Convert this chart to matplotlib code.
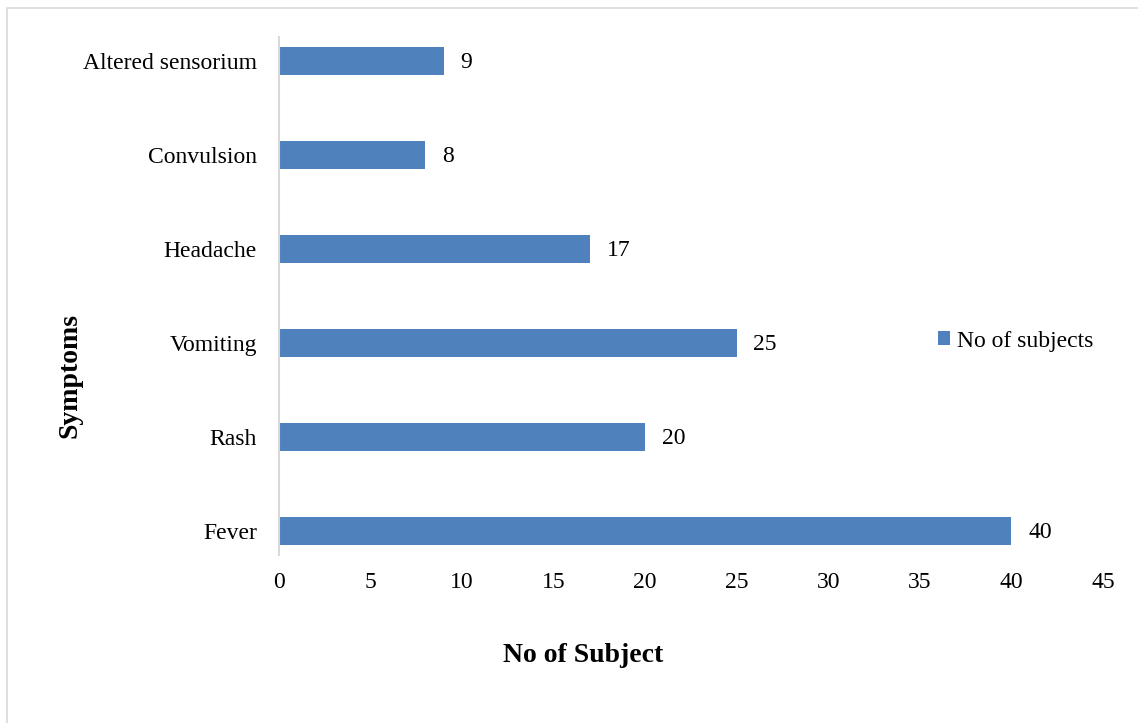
import matplotlib.pyplot as plt
from matplotlib.patches import Rectangle

symptoms = ["Fever", "Rash", "Vomiting", "Headache", "Convulsion", "Altered sensorium"]
subjects = [40, 20, 25, 17, 8, 9]
xticks = [0, 5, 10, 15, 20, 25, 30, 35, 40, 45]

plt.rcParams['font.family'] = ['Liberation Serif', 'DejaVu Serif']

fig = plt.figure(figsize=(11.38, 7.23), dpi=100)
ax = fig.add_axes([279 / 1138, 1 - 555 / 723, 824 / 1138, 518 / 723])

bars = ax.barh(range(len(symptoms)), subjects, height=0.3, color='#4F81BD',
               label='No of subjects')
for b, v in zip(bars, subjects):
    ax.annotate(str(v), (b.get_width(), b.get_y() + b.get_height() / 2),
                xytext=(12, -1), textcoords='offset points', va='center',
                ha='left', fontsize=17)

ax.set_xlim(0, 45)
ax.set_ylim(-24 / 94, 5 + 24 / 94)
ax.set_xticks(xticks)
ax.set_yticks(range(len(symptoms)))
ax.set_yticklabels(symptoms)
ax.tick_params(length=0, labelsize=17)
ax.tick_params(axis='x', pad=12)
ax.tick_params(axis='y', pad=16)
for s in ['top', 'right', 'bottom']:
    ax.spines[s].set_visible(False)
ax.spines['left'].set_color('#d9d9d9')
ax.spines['left'].set_linewidth(1.5)

fig.text(583 / 1138, 1 - 655 / 723, 'No of Subject', ha='center', va='center',
         fontsize=20, fontweight='bold')
fig.text(70 / 1138, 1 - 375 / 723, 'Symptoms', ha='center', va='center',
         rotation=90, fontsize=20, fontweight='bold')

fig.legend(loc='center left', bbox_to_anchor=(926 / 1138, 1 - 341 / 723),
           frameon=False, fontsize=17, handlelength=0.5, handleheight=0.5,
           handletextpad=0.3, borderpad=0)

fig.patches.append(Rectangle((7 / 1138, -0.01), 1.0, 1 - 8 / 723 + 0.01,
                             transform=fig.transFigure, fill=False,
                             edgecolor='#d9d9d9', linewidth=1.2))

fig.savefig('out.png', dpi=100)
